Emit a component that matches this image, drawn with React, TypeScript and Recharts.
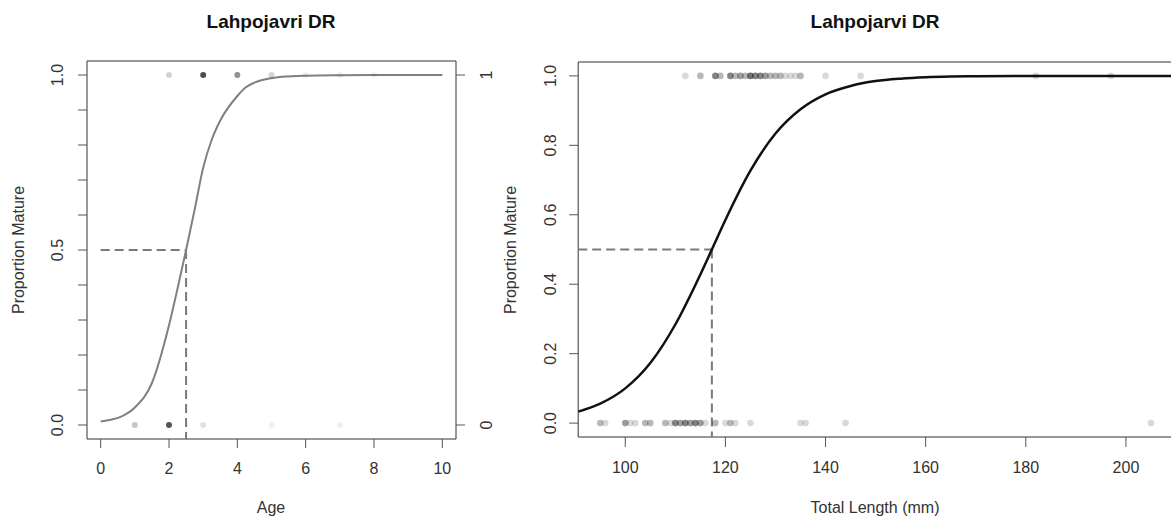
import React from "react";
import {
  ComposedChart,
  Line,
  Scatter,
  XAxis,
  YAxis,
  ReferenceLine,
  ReferenceArea
} from "recharts";

// ---- Age panel ----
const ageTicks = [0, 2, 4, 6, 8, 10];
const ageYTicks = [0, 0.1, 0.2, 0.3, 0.4, 0.5, 0.6, 0.7, 0.8, 0.9, 1];
const ageCurveX = [0, 0.3, 0.6, 1, 1.5, 2, 2.25, 2.5, 2.75, 3, 3.25, 3.5, 4, 4.25, 4.5, 5, 5.5, 6, 7, 8, 9, 10];
const ageCurveY = [0.01, 0.015, 0.024, 0.05, 0.12, 0.285, 0.39, 0.5, 0.615, 0.735, 0.815, 0.87, 0.94, 0.965, 0.978, 0.991, 0.996, 0.998, 0.9995, 1, 1, 1];
const ageMatureX = [2, 3, 4, 5, 6, 7, 8];
const ageMatureN = [3, 19, 9, 3, 1, 1, 1];
const ageImmatureX = [1, 2, 3, 5, 7];
const ageImmatureN = [4, 18, 2, 1, 1];
const age50 = 2.5;

// ---- Length panel ----
const lenTicks = [100, 120, 140, 160, 180, 200];
const lenYTicks = [0, 0.2, 0.4, 0.6, 0.8, 1];
const lenCurveX = [90.6, 95, 100, 105, 110, 115, 117.3, 120, 125, 130, 135, 140, 145, 150, 155, 160, 165, 170, 180, 190, 200, 209.4];
const lenCurveY = [0.033, 0.056, 0.1, 0.173, 0.284, 0.428, 0.5, 0.585, 0.727, 0.834, 0.904, 0.947, 0.971, 0.985, 0.992, 0.996, 0.998, 0.999, 0.9997, 1, 1, 1];
const lenMatureX = [112, 115, 118, 119, 121, 122, 123, 124, 125, 126, 127, 128, 129, 130, 131, 132, 133, 134, 135, 140, 147, 182, 197];
const lenMatureN = [1, 2, 4, 2, 4, 2, 3, 2, 5, 4, 4, 3, 2, 2, 2, 1, 1, 1, 2, 1, 1, 1, 1];
const lenImmatureX = [95, 96, 100, 101, 102, 104, 105, 108, 109, 110, 111, 112, 113, 114, 115, 116, 118, 120, 121, 122, 125, 135, 136, 144, 205];
const lenImmatureN = [2, 1, 3, 1, 1, 2, 2, 2, 1, 4, 3, 4, 3, 4, 3, 1, 2, 1, 2, 1, 1, 1, 1, 1, 1];
const len50 = 117.3;

const FONT = "'Liberation Sans', Arial, sans-serif";
const TXT = "#333";

const toXY = (xs: number[], ys: number[]) => xs.map((x, i) => ({ x, y: ys[i] }));
const toPts = (xs: number[], ns: number[], y: number) => xs.map((x, i) => ({ x, y, n: ns[i] }));

const dot = (alpha: number, r: number) => (props: any) => {
  const { cx, cy, payload } = props;
  if (cx == null || cy == null) return <g />;
  return (
    <circle
      cx={cx}
      cy={cy}
      r={r}
      fill="#000"
      fillOpacity={1 - Math.pow(1 - alpha, payload.n)}
    />
  );
};

const rotTick = (fmt: (v: number) => string) => (props: any) => {
  const { x, y, payload } = props;
  const s = fmt(payload.value);
  if (!s) return <g />;
  return (
    <text
      x={x}
      y={y}
      transform={`rotate(-90, ${x}, ${y})`}
      textAnchor="middle"
      fontSize={16}
      fill={TXT}
      fontFamily={FONT}
    >
      {s}
    </text>
  );
};

const tickStyle = { fontSize: 16, fill: TXT, fontFamily: FONT };

function AgePanel() {
  const yDom: [number, number] = [-0.04, 1.04];
  const xDom: [number, number] = [-0.4, 10.4];
  return (
    <ComposedChart width={520} height={523} margin={{ top: 61, right: 24, bottom: 44, left: 27 }}>
      <XAxis
        type="number"
        dataKey="x"
        domain={xDom}
        allowDataOverflow
        ticks={ageTicks}
        axisLine={false}
        tickSize={9}
        tickMargin={15}
        tick={tickStyle}
        tickLine={{ stroke: "#555" }}
        height={40}
      />
      <YAxis
        yAxisId="l"
        type="number"
        dataKey="y"
        domain={yDom}
        allowDataOverflow
        ticks={ageYTicks}
        axisLine={false}
        tickSize={9}
        tickMargin={15}
        tickLine={{ stroke: "#555" }}
        tick={rotTick((v) => (v === 0 || v === 0.5 || v === 1 ? v.toFixed(1) : ""))}
        width={60}
      />
      <YAxis
        yAxisId="r"
        orientation="right"
        type="number"
        domain={yDom}
        allowDataOverflow
        ticks={[0, 1]}
        axisLine={false}
        tickSize={9}
        tickMargin={27}
        tickLine={{ stroke: "#555" }}
        tick={rotTick((v) => String(v))}
        width={40}
      />
      <ReferenceArea yAxisId="l" x1={xDom[0]} x2={xDom[1]} y1={yDom[0]} y2={yDom[1]} fill="none" stroke="#333" strokeWidth={1} />
      <ReferenceLine yAxisId="l" segment={[{ x: 0, y: 0.5 }, { x: age50, y: 0.5 }]} stroke="#7a7a7a" strokeWidth={2} strokeDasharray="9 5" />
      <ReferenceLine yAxisId="l" segment={[{ x: age50, y: 0.5 }, { x: age50, y: yDom[0] }]} stroke="#7a7a7a" strokeWidth={2} strokeDasharray="9 5" />
      <Line
        yAxisId="l"
        data={toXY(ageCurveX, ageCurveY)}
        dataKey="y"
        type="monotone"
        stroke="#808080"
        strokeWidth={2}
        dot={false}
        isAnimationActive={false}
      />
      <Scatter yAxisId="l" data={toPts(ageMatureX, ageMatureN, 1)} dataKey="y" shape={dot(0.06, 3)} isAnimationActive={false} />
      <Scatter yAxisId="l" data={toPts(ageImmatureX, ageImmatureN, 0)} dataKey="y" shape={dot(0.06, 3)} isAnimationActive={false} />
    </ComposedChart>
  );
}

function LengthPanel() {
  const yDom: [number, number] = [-0.04, 1.04];
  const xDom: [number, number] = [90.6, 209.4];
  return (
    <ComposedChart width={700} height={523} margin={{ top: 62, right: 27, bottom: 46, left: 18.2 }}>
      <XAxis
        type="number"
        dataKey="x"
        domain={xDom}
        allowDataOverflow
        ticks={lenTicks}
        axisLine={false}
        tickSize={10}
        tickMargin={15}
        tick={tickStyle}
        tickLine={{ stroke: "#555" }}
        height={40}
      />
      <YAxis
        type="number"
        dataKey="y"
        domain={yDom}
        allowDataOverflow
        ticks={lenYTicks}
        axisLine={false}
        tickSize={9}
        tickMargin={13}
        tickLine={{ stroke: "#555" }}
        tick={rotTick((v) => v.toFixed(1))}
        width={60}
      />
      <ReferenceArea x1={xDom[0]} x2={xDom[1]} y1={yDom[0]} y2={yDom[1]} fill="none" stroke="#333" strokeWidth={1} />
      <ReferenceLine segment={[{ x: xDom[0], y: 0.5 }, { x: len50, y: 0.5 }]} stroke="#7a7a7a" strokeWidth={2} strokeDasharray="9 5" />
      <ReferenceLine segment={[{ x: len50, y: 0.5 }, { x: len50, y: yDom[0] }]} stroke="#7a7a7a" strokeWidth={2} strokeDasharray="9 5" />
      <Line
        data={toXY(lenCurveX, lenCurveY)}
        dataKey="y"
        type="monotone"
        stroke="#111"
        strokeWidth={2.5}
        dot={false}
        isAnimationActive={false}
      />
      <Scatter data={toPts(lenMatureX, lenMatureN, 1)} dataKey="y" shape={dot(0.15, 3.3)} isAnimationActive={false} />
      <Scatter data={toPts(lenImmatureX, lenImmatureN, 0)} dataKey="y" shape={dot(0.15, 3.3)} isAnimationActive={false} />
    </ComposedChart>
  );
}

export default function App() {
  return (
    <div
      style={{
        position: "absolute",
        left: 0,
        top: 0,
        width: 1171,
        height: 523,
        overflow: "hidden",
        background: "#fff",
        fontFamily: FONT
      }}
    >
      <div style={{ position: "absolute", left: 0, top: 0 }}>
        <AgePanel />
      </div>
      <div style={{ position: "absolute", left: 500, top: 0 }}>
        <LengthPanel />
      </div>
      <svg
        width={1171}
        height={523}
        style={{ position: "absolute", left: 0, top: 0, pointerEvents: "none" }}
        fontFamily={FONT}
        fill={TXT}
      >
        <text x={271} y={28} textAnchor="middle" fontSize={19} fontWeight="bold" fill="#111">
          Lahpojavri DR
        </text>
        <text x={875} y={28} textAnchor="middle" fontSize={19} fontWeight="bold" fill="#111">
          Lahpojarvi DR
        </text>
        <text x={271} y={513} textAnchor="middle" fontSize={16}>
          Age
        </text>
        <text x={875} y={513} textAnchor="middle" fontSize={16}>
          Total Length (mm)
        </text>
        <text x={24} y={250} textAnchor="middle" fontSize={16} transform="rotate(-90, 24, 250)">
          Proportion Mature
        </text>
        <text x={516} y={250} textAnchor="middle" fontSize={16} transform="rotate(-90, 516, 250)">
          Proportion Mature
        </text>
      </svg>
    </div>
  );
}
